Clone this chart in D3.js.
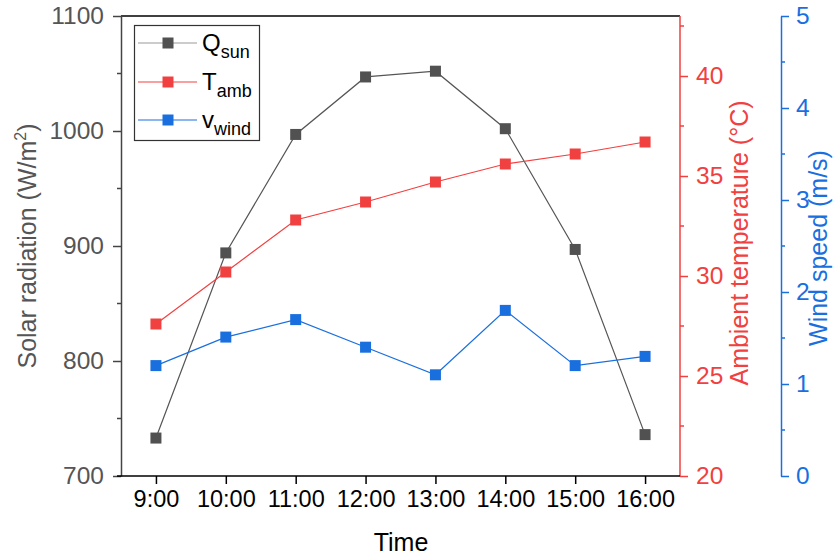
<!DOCTYPE html>
<html><head><meta charset="utf-8">
<script src="https://cdn.jsdelivr.net/npm/d3@7"></script>
<style>body{margin:0;background:#fff}svg{font-family:"Liberation Sans",Arial,sans-serif}</style>
</head><body><svg id="c" width="836" height="558"></svg>
<script>
const times = ["9:00","10:00","11:00","12:00","13:00","14:00","15:00","16:00"];
const hours = [9,10,11,12,13,14,15,16];
const qSun = [733,894,997,1047,1052,1002,897,736];
const tAmb = [27.6,30.2,32.8,33.7,34.7,35.6,36.1,36.7];
const vWind = [1.20,1.51,1.70,1.40,1.10,1.80,1.20,1.30];
const leftTicks = [700,800,900,1000,1100];
const redTicks = [20,25,30,35,40];
const blueTicks = [0,1,2,3,4,5];

const C_Q="#515151", C_T="#F14040", C_V="#1A6FDF";
const svg=d3.select("#c");
const L=121,R=680,T=16,B=476;
const x=d3.scaleLinear().domain([8.5,16.5]).range([L,R]);
const yQ=d3.scaleLinear().domain([700,1100]).range([B,T]);
const yT=d3.scaleLinear().domain([20,43]).range([B,T]);
const yV=d3.scaleLinear().domain([0,5]).range([B,T]);
const fmt=d3.format("d");
const TF=24.5;

function styleAxis(g,color){
  g.selectAll("path").attr("stroke",color).attr("stroke-width",1.5);
  g.selectAll("line").attr("stroke",color).attr("stroke-width",1.5);
  g.selectAll("text").attr("fill",color).attr("font-size",TF);
}
function minor(g, scale, vals, dir, color){
  g.selectAll(null).data(vals).enter().append("line")
   .attr("x1",0).attr("x2",dir*4).attr("y1",d=>scale(d)).attr("y2",d=>scale(d))
   .attr("stroke",color).attr("stroke-width",1.5);
}
svg.append("line").attr("x1",L).attr("x2",R).attr("y1",T).attr("y2",T).attr("stroke","#000").attr("stroke-width",1.5);

const gl=svg.append("g").attr("transform",`translate(${L},0)`)
  .call(d3.axisLeft(yQ).tickValues(leftTicks).tickFormat(fmt).tickSize(8).tickSizeOuter(0).tickPadding(9));
styleAxis(gl,"#444"); gl.selectAll("text").attr("fill","#555");
minor(gl,yQ,[750,850,950,1050],-1,"#444");
const gr=svg.append("g").attr("transform",`translate(${R},0)`)
  .call(d3.axisRight(yT).tickValues(redTicks).tickFormat(fmt).tickSize(8).tickSizeOuter(0).tickPadding(8));
styleAxis(gr,C_T);
minor(gr,yT,[22.5,27.5,32.5,37.5,42.5],1,C_T);
gr.select("path").attr("d",`M0,${B}V${T}`);
const bx=781;
const gb=svg.append("g").attr("transform",`translate(${bx},0)`)
  .call(d3.axisRight(yV).tickValues(blueTicks).tickFormat(fmt).tickSize(8).tickSizeOuter(0).tickPadding(7));
styleAxis(gb,C_V);
minor(gb,yV,[0.5,1.5,2.5,3.5,4.5],1,C_V);
const gx=svg.append("g").attr("transform",`translate(0,${B})`)
  .call(d3.axisBottom(x).tickValues(hours).tickFormat((d,i)=>times[i]).tickSize(8).tickSizeOuter(0).tickPadding(6));
styleAxis(gx,"#000"); gx.selectAll("text").attr("font-size",23.5);
gx.select("path").attr("d",`M${L-4},0H${R}`);

const TT=25;
svg.append("text").attr("x",401).attr("y",551).attr("text-anchor","middle").attr("font-size",TT).attr("fill","#000").text("Time");
const lt=svg.append("text").attr("transform","translate(36,246) rotate(-90)").attr("text-anchor","middle").attr("font-size",TT).attr("fill","#555");
lt.append("tspan").text("Solar radiation (W/m");
lt.append("tspan").attr("font-size",16).attr("dy",-10).text("2");
lt.append("tspan").attr("dy",10).text(")");
svg.append("text").attr("transform","translate(748,243) rotate(-90)").attr("text-anchor","middle").attr("font-size",TT).attr("fill",C_T).text("Ambient temperature (°C)");
svg.append("text").attr("transform","translate(827,248) rotate(-90)").attr("text-anchor","middle").attr("font-size",TT).attr("fill",C_V).text("Wind speed (m/s)");

const series=[
  {vals:qSun,y:yQ,color:C_Q,line:"#555"},
  {vals:tAmb,y:yT,color:C_T,line:C_T},
  {vals:vWind,y:yV,color:C_V,line:C_V}
];
const S=11;
series.forEach(s=>{
  svg.append("path").datum(s.vals)
    .attr("d",d3.line().x((d,i)=>x(hours[i])).y(d=>s.y(d)))
    .attr("fill","none").attr("stroke",s.line).attr("stroke-width",1.2);
  svg.append("g").selectAll("rect").data(s.vals).enter().append("rect")
    .attr("x",(d,i)=>x(hours[i])-S/2).attr("y",d=>s.y(d)-S/2)
    .attr("width",S).attr("height",S).attr("fill",s.color);
});

const lg=svg.append("g");
lg.append("rect").attr("x",134.5).attr("y",25.5).attr("width",125).attr("height",115)
  .attr("fill","#fff").attr("stroke","#333").attr("stroke-width",1.2);
const legItems=[
  {main:"Q",sub:"sun",color:C_Q,line:"#999",y:43},
  {main:"T",sub:"amb",color:C_T,line:C_T,y:82},
  {main:"v",sub:"wind",color:C_V,line:C_V,y:120}
];
legItems.forEach(it=>{
  lg.append("line").attr("x1",138).attr("x2",197).attr("y1",it.y).attr("y2",it.y).attr("stroke",it.line).attr("stroke-width",1.2);
  lg.append("rect").attr("x",168-S/2).attr("y",it.y-S/2).attr("width",S).attr("height",S).attr("fill",it.color);
  const t=lg.append("text").attr("x",202).attr("y",it.y+8).attr("font-size",24).attr("fill","#000");
  t.append("tspan").text(it.main);
  t.append("tspan").attr("font-size",18).attr("dy",7).text(it.sub);
});
</script></body></html>
